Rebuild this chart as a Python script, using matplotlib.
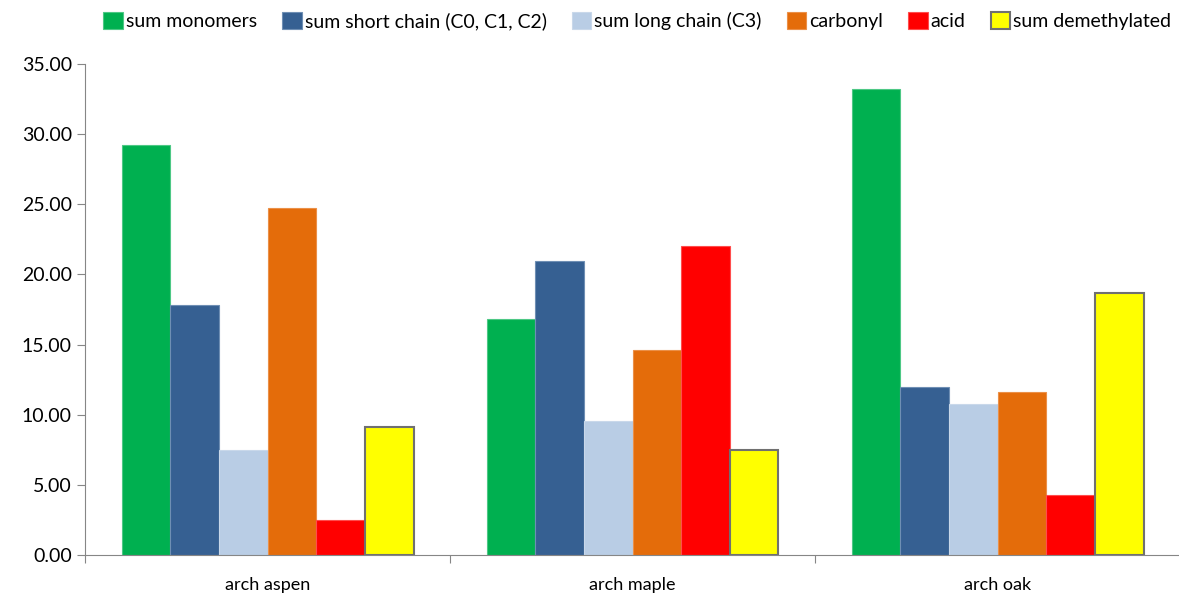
import matplotlib.pyplot as plt
import numpy as np

plt.rcParams['font.family'] = ['Lato', 'DejaVu Sans']

categories = ['arch aspen', 'arch maple', 'arch oak']
series_names = ['sum monomers', 'sum short chain (C0, C1, C2)', 'sum long chain (C3)',
                'carbonyl', 'acid', 'sum demethylated']
sum_monomers = [29.25, 16.8, 33.2]
sum_short_chain = [17.85, 20.95, 11.95]
sum_long_chain = [7.5, 9.55, 10.75]
carbonyl = [24.7, 14.6, 11.6]
acid = [2.5, 22.05, 4.25]
sum_demethylated = [9.15, 7.5, 18.65]

colors = ['#00b050', '#366092', '#b9cde5', '#e46c0a', '#ff0000', '#ffff00']
edges = ['#4dc885', '#6f8fb4', '#c9d8ea', '#eb9048', '#ff4d4d', '#707070']


def main():
    values = [sum_monomers, sum_short_chain, sum_long_chain, carbonyl, acid,
              sum_demethylated]
    fig = plt.figure(figsize=(11.79, 5.96), dpi=100)
    ax = fig.add_axes([85 / 1179, 41 / 596, 1095 / 1179, 491 / 596])
    x = np.arange(len(categories))
    w = 0.8 / len(values)
    for i, vals in enumerate(values):
        lw = 1.5 if i == 5 else 0.8
        ax.bar(x - 0.4 + w * (i + 0.5), vals, w, color=colors[i],
               edgecolor=edges[i], linewidth=lw, label=series_names[i])
    ax.set_xlim(-0.5, 2.5)
    ax.set_ylim(0, 35)
    ax.set_yticks(np.arange(0, 36, 5))
    ax.set_yticklabels([f'{v:.2f}' for v in np.arange(0, 36, 5)], fontsize=14)
    # category labels centred, ticks on boundaries
    ax.set_xticks([-0.5, 0.5, 1.5, 2.5])
    ax.set_xticklabels([])
    ax.set_xticks(x, minor=True)
    ax.set_xticklabels(categories, minor=True, fontsize=13)
    ax.tick_params(axis='x', which='minor', length=0, pad=16)
    ax.tick_params(axis='x', which='major', length=6, color='#868686')
    ax.tick_params(axis='y', length=6, color='#868686')
    for s in ['top', 'right']:
        ax.spines[s].set_visible(False)
    for s in ['left', 'bottom']:
        ax.spines[s].set_color('#868686')
    ax.legend(loc='center right', bbox_to_anchor=(0.992, 1.088), ncol=6,
              frameon=False, fontsize=14, handlelength=1.0, handleheight=1.0,
              handletextpad=0.15, columnspacing=1.3, borderaxespad=0,
              borderpad=0)
    fig.savefig('out.png', dpi=100)


if __name__ == '__main__':
    main()
